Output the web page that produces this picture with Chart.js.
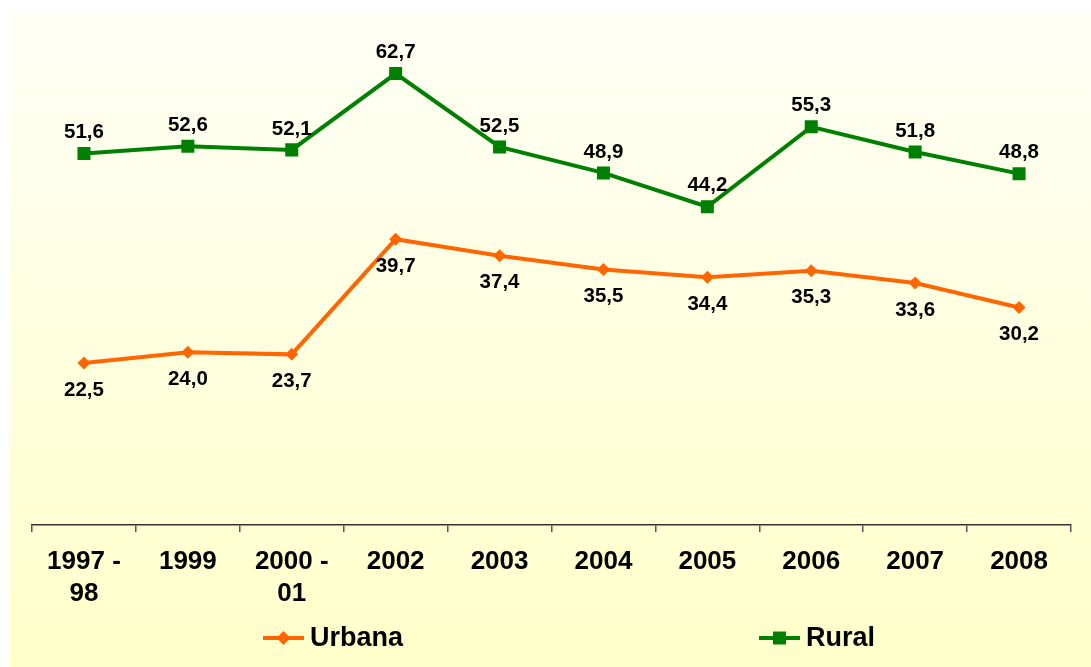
<!DOCTYPE html>
<html>
<head>
<meta charset="utf-8">
<script src="https://cdn.jsdelivr.net/npm/chart.js@4.4.1/dist/chart.umd.min.js"></script>
<style>
  html, body { margin: 0; padding: 0; background: #ffffff; }
  #wrap { width: 1091px; height: 667px; position: relative; }
</style>
</head>
<body>
<div id="wrap"><canvas id="c" width="1091" height="667"></canvas></div>
<script>
const categories = [["1997 -", "98"], "1999", ["2000 -", "01"], "2002", "2003", "2004", "2005", "2006", "2007", "2008"];
const urbana = [22.5, 24.0, 23.7, 39.7, 37.4, 35.5, 34.4, 35.3, 33.6, 30.2];
const rural = [51.6, 52.6, 52.1, 62.7, 52.5, 48.9, 44.2, 55.3, 51.8, 48.8];
const seriesNames = ["Urbana", "Rural"];
const seriesColors = ["#FF6600", "#008000"];

const FONT = "'Liberation Sans', Arial, Helvetica, sans-serif";

const bgPlugin = {
  id: 'bg',
  beforeDraw(chart) {
    const ctx = chart.ctx;
    ctx.save();
    ctx.fillStyle = '#ffffff';
    ctx.fillRect(0, 0, chart.width, chart.height);
    const g = ctx.createLinearGradient(0, 12, 0, chart.height);
    g.addColorStop(0, '#FFFFF6');
    g.addColorStop(1, '#FFFFCA');
    ctx.fillStyle = g;
    ctx.fillRect(10, 12, chart.width - 10, chart.height - 12);
    ctx.restore();
  }
};

const labelPlugin = {
  id: 'vals',
  afterDatasetsDraw(chart) {
    const ctx = chart.ctx;
    ctx.save();
    ctx.font = "bold 20.5px " + FONT;
    ctx.fillStyle = '#000000';
    ctx.textAlign = 'center';
    ctx.textBaseline = 'middle';
    chart.data.datasets.forEach((ds, i) => {
      const meta = chart.getDatasetMeta(i);
      meta.data.forEach((pt, j) => {
        const txt = ds.data[j].toFixed(1).replace('.', ',');
        const dy = i === 1 ? -21 : 27;
        ctx.fillText(txt, pt.x, pt.y + dy);
      });
    });
    ctx.restore();
  }
};

const legendPlugin = {
  id: 'customLegend',
  afterDraw(chart) {
    const ctx = chart.ctx;
    const items = [{x: 263}, {x: 759}];
    const y = 638;
    ctx.save();
    chart.data.datasets.forEach((ds, i) => {
      const x0 = items[i].x;
      ctx.strokeStyle = ds.borderColor;
      ctx.lineWidth = 4;
      ctx.beginPath();
      ctx.moveTo(x0, y);
      ctx.lineTo(x0 + 41, y);
      ctx.stroke();
      ctx.fillStyle = ds.backgroundColor;
      const cx = x0 + 20.5;
      if (ds.pointStyle === 'rect') {
        ctx.fillRect(cx - 6.5, y - 6.5, 13, 13);
      } else {
        ctx.beginPath();
        ctx.moveTo(cx - 7, y);
        ctx.lineTo(cx, y - 7);
        ctx.lineTo(cx + 7, y);
        ctx.lineTo(cx, y + 7);
        ctx.closePath();
        ctx.fill();
      }
      ctx.fillStyle = '#000000';
      ctx.font = "bold 27px " + FONT;
      ctx.textAlign = 'left';
      ctx.textBaseline = 'middle';
      ctx.fillText(ds.label, x0 + 47, y + 1);
    });
    ctx.restore();
  }
};

new Chart(document.getElementById('c'), {
  type: 'line',
  data: {
    labels: categories,
    datasets: [
      {
        label: seriesNames[0],
        data: urbana,
        borderColor: seriesColors[0],
        backgroundColor: seriesColors[0],
        borderWidth: 4,
        pointStyle: 'rectRot',
        pointRadius: 6.5,
        pointBorderWidth: 0,
        tension: 0,
        fill: false
      },
      {
        label: seriesNames[1],
        data: rural,
        borderColor: seriesColors[1],
        backgroundColor: seriesColors[1],
        borderWidth: 4,
        pointStyle: 'rect',
        pointRadius: 9.2,
        pointBorderWidth: 0,
        tension: 0,
        fill: false
      }
    ]
  },
  options: {
    responsive: false,
    animation: false,
    devicePixelRatio: 1,
    layout: { padding: { left: 32, right: 20, top: 21, bottom: 0 } },
    plugins: {
      legend: { display: false },
      tooltip: { enabled: false },
      title: { display: false }
    },
    scales: {
      x: {
        offset: true,
        grid: {
          offset: true,
          drawOnChartArea: false,
          drawTicks: true,
          tickLength: 7,
          color: '#555555',
          lineWidth: 1.5
        },
        border: { display: true, color: '#333333', width: 1.5 },
        ticks: {
          color: '#000000',
          font: { family: FONT, size: 26, weight: 'bold', lineHeight: 1.23 },
          padding: 14,
          maxRotation: 0,
          autoSkip: false
        },
        afterFit(scale) { scale.height = 142; }
      },
      y: {
        display: false,
        min: 0,
        max: 70
      }
    }
  },
  plugins: [bgPlugin, labelPlugin, legendPlugin]
});
</script>
</body>
</html>
